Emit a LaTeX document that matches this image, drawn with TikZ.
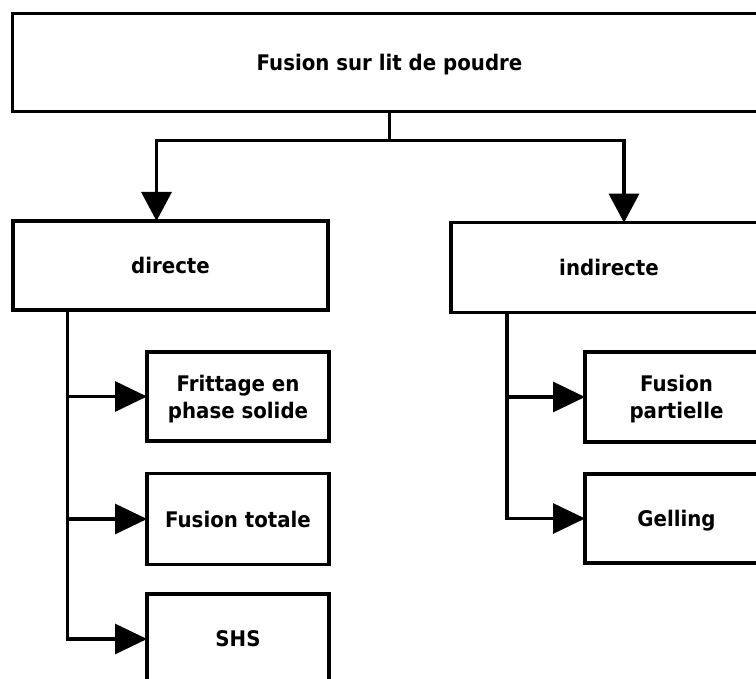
\documentclass[tikz,border=0pt]{standalone}
\usepackage{fontspec}
\setmainfont{DejaVu Sans}[FakeStretch=0.92]
\usetikzlibrary{arrows.meta}
\begin{document}
\begin{tikzpicture}[x=1pt,y=-1pt,
  box/.style={draw, line width=3.2pt, align=center, inner sep=0pt, outer sep=0pt,
    text depth=0pt, font=\bfseries\fontsize{21.5}{27}\selectfont},
  link/.style={line width=3.2pt},
  arrv/.style={line width=3.2pt, -{Triangle[length=29pt,width=30pt]}},
  arrh/.style={line width=3.2pt, -{Triangle[length=32pt,width=30pt]}}]
\useasboundingbox (0,0) rectangle (756,679);
\clip (0,0) rectangle (756,679);
\node[box, minimum width=754pt, minimum height=98.5pt] (top) at (389.5,62.5) {Fusion sur lit de poudre};
\node[box, minimum width=315pt, minimum height=89pt] (dir) at (170.5,265.5) {directe};
\node[box, minimum width=316pt, minimum height=90pt] (ind) at (609,267.7) {indirecte};
\node[box, minimum width=182pt, minimum height=89pt] (fr) at (238,396.5) {Frittage en\\phase solide};
\node[box, minimum width=182pt, minimum height=91pt] (ft) at (238,519) {Fusion totale};
\node[box, minimum width=182pt, minimum height=90pt] (shs) at (238,639) {SHS};
\node[box, minimum width=183pt, minimum height=90pt] (fp) at (676.5,397) {Fusion\\partielle};
\node[box, minimum width=183pt, minimum height=89pt] (gel) at (676.5,518.5) {Gelling};
\coordinate (bus) at ([yshift=-29pt]top.south);
\coordinate (dl) at ([xshift=-14pt]dir.north);
\coordinate (ir) at ([xshift=15pt]ind.north);
\coordinate (lb) at ([xshift=54.5pt]dir.south west);
\coordinate (rb) at ([xshift=56pt]ind.south west);
\draw[link] (top.south) -- (bus);
\draw[arrv] (bus) -| (dl);
\draw[arrv] (bus) -| (ir);
\draw[arrh] (lb) |- (shs.west);
\draw[arrh] (lb |- fr.west) -- (fr.west);
\draw[arrh] (lb |- ft.west) -- (ft.west);
\draw[arrh] (rb) |- (gel.west);
\draw[arrh] (rb |- fp.west) -- (fp.west);
\end{tikzpicture}
\end{document}
